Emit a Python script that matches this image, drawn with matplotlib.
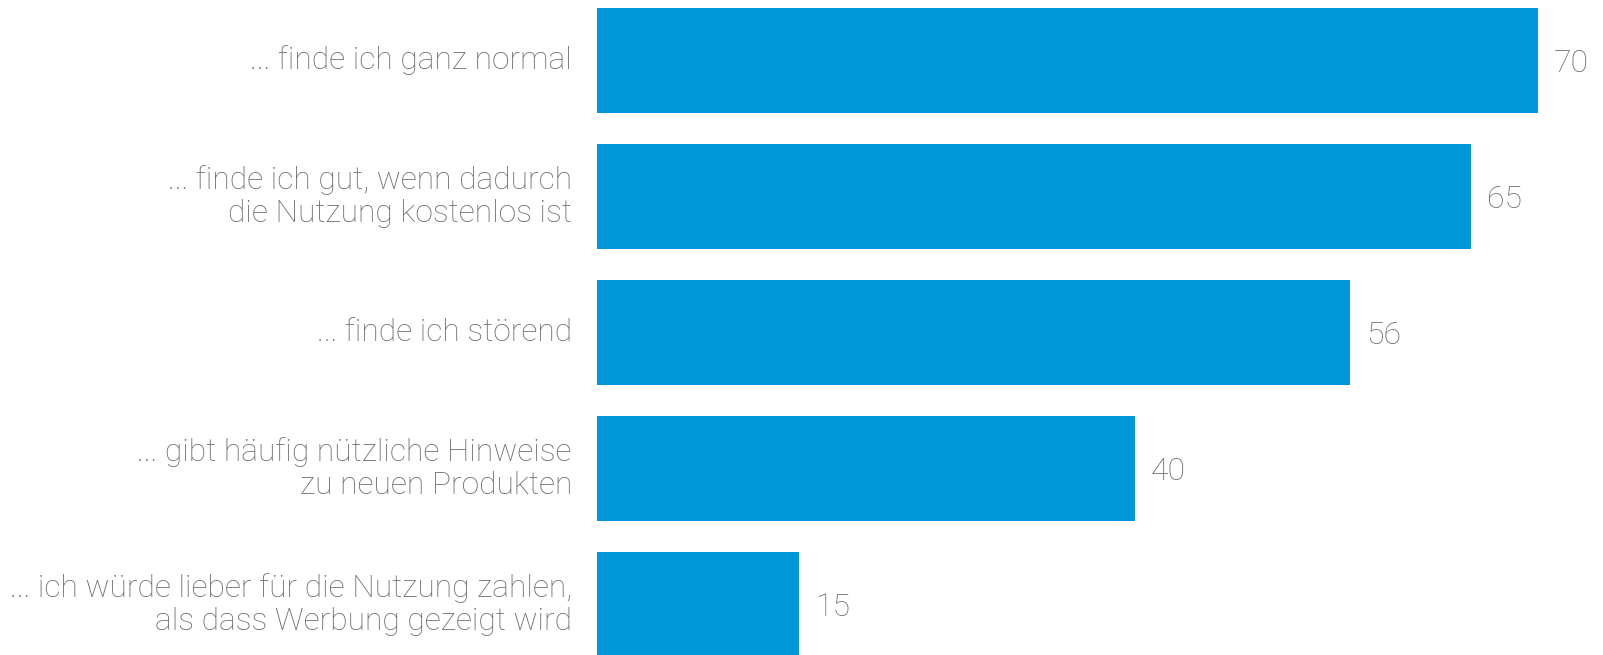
import matplotlib
matplotlib.use("Agg")
import matplotlib.pyplot as plt

labels = [
    "... finde ich ganz normal",
    "... finde ich gut, wenn dadurch\ndie Nutzung kostenlos ist",
    "... finde ich störend",
    "... gibt häufig nützliche Hinweise\nzu neuen Produkten",
    "... ich würde lieber für die Nutzung zahlen,\nals dass Werbung gezeigt wird",
]
values = [70, 65, 56, 40, 15]

bar_color = "#0098da"
text_color = "#6b6b6b"

plt.rcParams['font.family'] = ['Roboto', 'DejaVu Sans']

fig = plt.figure(figsize=(16.03, 6.55), dpi=100)
ax = fig.add_axes([597 / 1603, 0, 941 / 1603, 1])

ypos = list(range(len(values)))
ax.barh(ypos, values, height=105 / 136, color=bar_color, clip_on=False)
ax.set_xlim(0, 70)
ax.set_ylim((655 - 60.5) / 136, -60.5 / 136)
ax.axis('off')

for y, v, lab in zip(ypos, values, labels):
    ax.text(v + 16 / 13.44, y + 0.02, str(v), ha='left', va='center',
            fontsize=23, color=text_color, fontweight='light')
    ax.text(-25 / 13.44, y, lab, ha='right', va='center', fontsize=22.9,
            color=text_color, fontweight='light', linespacing=1.2)

fig.savefig("out.png", dpi=100)
